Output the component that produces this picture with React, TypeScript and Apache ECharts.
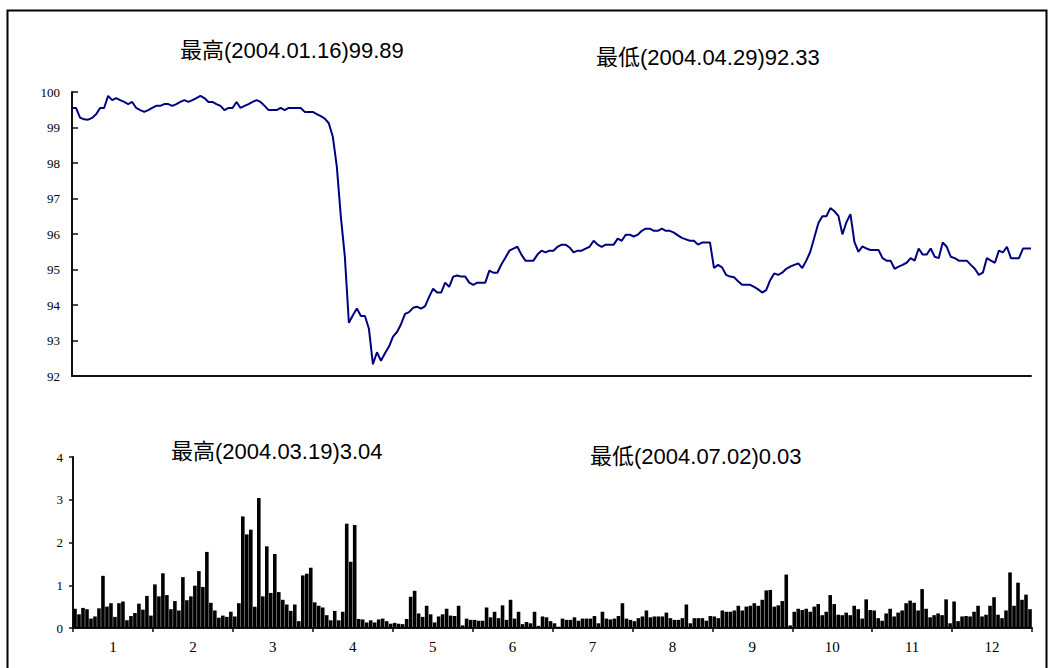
import React, { useEffect, useRef } from 'react';
import * as echarts from 'echarts';

// Daily index values, 2004 (240 trading days)
const priceValues: number[] = [
  99.55, 99.55, 99.28, 99.23, 99.22, 99.27, 99.37, 99.55, 99.55, 99.89,
  99.77, 99.83, 99.77, 99.72, 99.66, 99.72, 99.55, 99.49, 99.44, 99.49,
  99.55, 99.61, 99.61, 99.66, 99.66, 99.61, 99.66, 99.72, 99.77, 99.72,
  99.77, 99.83, 99.89, 99.83, 99.72, 99.72, 99.66, 99.61, 99.49, 99.55,
  99.55, 99.72, 99.55, 99.61, 99.66, 99.72, 99.77, 99.72, 99.61, 99.49,
  99.49, 99.49, 99.55, 99.49, 99.55, 99.55, 99.55, 99.55, 99.44, 99.44,
  99.44, 99.38, 99.32, 99.25, 99.12, 98.74, 97.9, 96.49, 95.36, 93.5,
  93.71, 93.9, 93.69, 93.69, 93.33, 92.33, 92.67, 92.43, 92.64, 92.83,
  93.11, 93.24, 93.46, 93.75, 93.8, 93.92, 93.95, 93.9, 93.97, 94.23,
  94.46, 94.35, 94.35, 94.63, 94.51, 94.8, 94.83, 94.8, 94.8, 94.63,
  94.57, 94.63, 94.63, 94.63, 94.97, 94.91, 94.91, 95.14, 95.33, 95.53,
  95.59, 95.64, 95.42, 95.25, 95.25, 95.25, 95.42, 95.53, 95.48, 95.53,
  95.53, 95.64, 95.7, 95.7, 95.62, 95.48, 95.53, 95.53, 95.59, 95.64,
  95.81, 95.7, 95.64, 95.7, 95.7, 95.7, 95.87, 95.81, 95.98, 95.98,
  95.93, 95.98, 96.09, 96.15, 96.15, 96.09, 96.09, 96.15, 96.09, 96.09,
  96.04, 95.96, 95.89, 95.85, 95.81, 95.81, 95.7, 95.76, 95.76, 95.76,
  95.04, 95.13, 95.06, 94.85, 94.8, 94.78, 94.67, 94.57, 94.57, 94.57,
  94.51, 94.44, 94.35, 94.42, 94.7, 94.89, 94.85, 94.91, 95.02, 95.08,
  95.13, 95.17, 95.04, 95.25, 95.5, 95.9, 96.3, 96.5, 96.5, 96.73,
  96.64, 96.51, 95.99, 96.33, 96.56, 95.77, 95.5, 95.65, 95.59, 95.55,
  95.55, 95.55, 95.32, 95.25, 95.25, 95.02, 95.08, 95.13, 95.19, 95.32,
  95.25, 95.59, 95.42, 95.42, 95.59, 95.36, 95.32, 95.76, 95.64, 95.36,
  95.32, 95.25, 95.25, 95.25, 95.13, 95.02, 94.85, 94.91, 95.32, 95.25,
  95.19, 95.53, 95.48, 95.64, 95.32, 95.32, 95.32, 95.59, 95.59, 95.59,
];

// Daily turnover values (240 trading days)
const turnoverValues: number[] = [
  0.45, 0.32, 0.47, 0.44, 0.22, 0.27, 0.46, 1.22, 0.5, 0.58,
  0.26, 0.58, 0.62, 0.18, 0.28, 0.35, 0.57, 0.43, 0.75, 0.29,
  1.02, 0.74, 1.28, 0.77, 0.44, 0.63, 0.41, 1.19, 0.65, 0.74,
  0.99, 1.33, 0.96, 1.78, 0.59, 0.41, 0.24, 0.29, 0.26, 0.38,
  0.27, 0.58, 2.61, 2.19, 2.3, 0.5, 3.04, 0.74, 1.91, 0.82,
  1.73, 0.84, 0.66, 0.55, 0.4, 0.55, 0.16, 1.23, 1.27, 1.41,
  0.6, 0.52, 0.48, 0.3, 0.18, 0.4, 0.18, 0.38, 2.44, 1.55,
  2.41, 0.21, 0.2, 0.13, 0.18, 0.13, 0.2, 0.22, 0.16, 0.1,
  0.12, 0.1, 0.09, 0.21, 0.73, 0.87, 0.34, 0.26, 0.52, 0.32,
  0.13, 0.27, 0.32, 0.45, 0.29, 0.28, 0.52, 0.06, 0.22, 0.19,
  0.19, 0.17, 0.17, 0.48, 0.25, 0.38, 0.23, 0.53, 0.19, 0.66,
  0.22, 0.38, 0.09, 0.14, 0.11, 0.38, 0.05, 0.27, 0.25, 0.16,
  0.11, 0.03, 0.22, 0.19, 0.19, 0.25, 0.17, 0.22, 0.22, 0.22,
  0.28, 0.11, 0.38, 0.22, 0.2, 0.22, 0.28, 0.58, 0.22, 0.19,
  0.16, 0.23, 0.27, 0.41, 0.25, 0.27, 0.27, 0.27, 0.36, 0.23,
  0.19, 0.19, 0.23, 0.55, 0.11, 0.23, 0.23, 0.23, 0.17, 0.28,
  0.27, 0.23, 0.41, 0.38, 0.38, 0.41, 0.52, 0.41, 0.5, 0.52,
  0.58, 0.52, 0.66, 0.88, 0.89, 0.5, 0.53, 0.63, 1.25, 0.06,
  0.38, 0.45, 0.42, 0.45, 0.38, 0.5, 0.56, 0.3, 0.38, 0.77,
  0.56, 0.31, 0.3, 0.36, 0.3, 0.52, 0.44, 0.22, 0.67, 0.42,
  0.41, 0.23, 0.17, 0.34, 0.45, 0.27, 0.36, 0.41, 0.58, 0.64,
  0.59, 0.41, 0.91, 0.45, 0.25, 0.3, 0.34, 0.3, 0.67, 0.11,
  0.62, 0.16, 0.27, 0.28, 0.27, 0.38, 0.52, 0.27, 0.31, 0.52,
  0.72, 0.31, 0.23, 0.41, 1.3, 0.52, 1.06, 0.66, 0.78, 0.44,
];

const monthLabels: string[] = ['1', '2', '3', '4', '5', '6', '7', '8', '9', '10', '11', '12'];

const priceHighText = '最高(2004.01.16)99.89';
const priceLowText = '最低(2004.04.29)92.33';
const turnoverHighText = '最高(2004.03.19)3.04';
const turnoverLowText = '最低(2004.07.02)0.03';

const sansFont = '"Liberation Sans", Arial, "Noto Sans CJK SC", sans-serif';
const serifFont = '"Liberation Serif", "Times New Roman", serif';

export default function App() {
  const ref = useRef<HTMLDivElement>(null);

  useEffect(() => {
    if (!ref.current) return;
    const chart = echarts.init(ref.current, null, { renderer: 'svg' });
    const days = priceValues.map((_, i) => String(i + 1));
    const barDays = turnoverValues.map((_, i) => String(i + 1));

    const titleText = (text: string, x: number, y: number) => ({
      type: 'text',
      x,
      y,
      style: {
        text,
        fill: '#000',
        fontSize: 22,
        fontFamily: sansFont,
        verticalAlign: 'middle',
        align: 'left',
      },
    });

    chart.setOption({
      animation: false,
      backgroundColor: '#fff',
      grid: [
        { left: 72, right: 19, top: 92, bottom: 292 },
        { left: 73, right: 18, top: 457, bottom: 40 },
      ],
      xAxis: [
        {
          type: 'category',
          gridIndex: 0,
          data: days,
          boundaryGap: false,
          axisLine: { show: true, lineStyle: { color: '#111', width: 2 } },
          axisTick: { show: false },
          axisLabel: { show: false },
          splitLine: { show: false },
        },
        {
          type: 'category',
          gridIndex: 1,
          data: barDays,
          show: false,
        },
        {
          type: 'category',
          gridIndex: 1,
          data: monthLabels,
          position: 'bottom',
          boundaryGap: true,
          axisLine: { show: true, lineStyle: { color: '#111', width: 2 } },
          axisTick: { show: true, alignWithLabel: false, length: 4, lineStyle: { color: '#111', width: 1.5 } },
          axisLabel: { show: true, color: '#000', fontSize: 15, fontFamily: serifFont, margin: 11 },
          splitLine: { show: false },
        },
      ],
      yAxis: [
        {
          type: 'value',
          gridIndex: 0,
          min: 92,
          max: 100,
          interval: 1,
          axisLine: { show: true, lineStyle: { color: '#111', width: 2 } },
          axisTick: { show: true, inside: true, length: 6, lineStyle: { color: '#111', width: 1.5 } },
          axisLabel: { color: '#000', fontSize: 13, fontFamily: serifFont, margin: 12 },
          splitLine: { show: false },
        },
        {
          type: 'value',
          gridIndex: 1,
          min: 0,
          max: 4,
          interval: 1,
          axisLine: { show: true, lineStyle: { color: '#111', width: 2 } },
          axisTick: { show: true, inside: false, length: 4, lineStyle: { color: '#111', width: 1.5 } },
          axisLabel: { color: '#000', fontSize: 13, fontFamily: serifFont, margin: 10 },
          splitLine: { show: false },
        },
      ],
      series: [
        {
          type: 'line',
          xAxisIndex: 0,
          yAxisIndex: 0,
          data: priceValues,
          symbol: 'none',
          lineStyle: { color: '#000080', width: 2 },
          itemStyle: { color: '#000080' },
        },
        {
          type: 'bar',
          xAxisIndex: 1,
          yAxisIndex: 1,
          data: turnoverValues,
          barCategoryGap: '10%',
          itemStyle: { color: '#000' },
        },
      ],
      graphic: [
        {
          type: 'rect',
          shape: { x: 7.5, y: 10.5, width: 1039, height: 700 },
          style: { fill: 'none', stroke: '#000', lineWidth: 2 },
          silent: true,
        },
        titleText(priceHighText, 180, 50),
        titleText(priceLowText, 596, 57),
        titleText(turnoverHighText, 171, 451),
        titleText(turnoverLowText, 590, 456),
      ],
    });

    return () => chart.dispose();
  }, []);

  return (
    <div
      ref={ref}
      style={{ position: 'fixed', left: 0, top: 0, width: 1050, height: 668, background: '#fff' }}
    />
  );
}
